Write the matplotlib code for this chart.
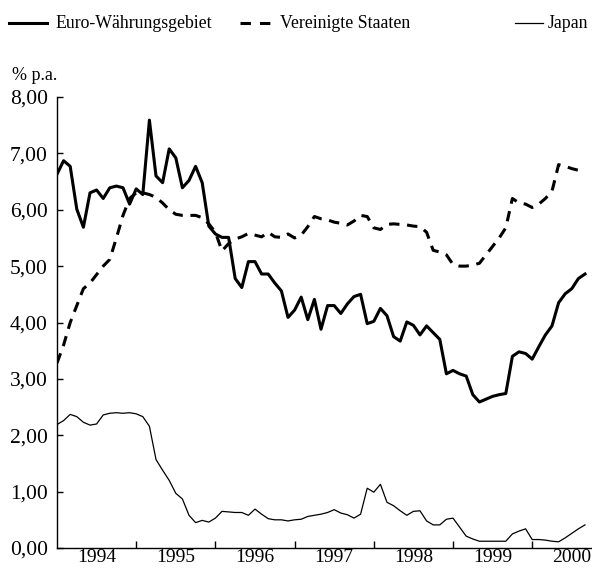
import numpy as np
import matplotlib
matplotlib.use("Agg")
import matplotlib.pyplot as plt
from matplotlib.lines import Line2D
from matplotlib.ticker import FuncFormatter, MultipleLocator

plt.rcParams['font.family'] = ['Liberation Serif', 'DejaVu Serif']
plt.rcParams['lines.scale_dashes'] = False

# monthly, Jan 1994 .. Sep 2000
euro = [6.63, 6.87, 6.77, 6.01, 5.69, 6.30, 6.35, 6.20, 6.39, 6.42,
        6.39, 6.10, 6.37, 6.27, 7.59, 6.60, 6.48, 7.08, 6.92, 6.39,
        6.52, 6.77, 6.48, 5.71, 5.57, 5.51, 5.51, 4.78, 4.62, 5.08,
        5.08, 4.86, 4.86, 4.70, 4.56, 4.09, 4.22, 4.45, 4.05, 4.41,
        3.88, 4.30, 4.30, 4.16, 4.33, 4.46, 4.50, 3.98, 4.02, 4.25,
        4.12, 3.75, 3.67, 4.01, 3.95, 3.78, 3.94, 3.82, 3.70, 3.09,
        3.15, 3.09, 3.05, 2.72, 2.59, 2.64, 2.69, 2.72, 2.74, 3.40,
        3.48, 3.45, 3.35, 3.57, 3.78, 3.94, 4.35, 4.51, 4.60, 4.78,
        4.86]
usa = [3.28, 3.60, 4.00, 4.30, 4.60, 4.70, 4.85, 5.00, 5.12, 5.50,
       5.90, 6.20, 6.30, 6.30, 6.27, 6.22, 6.12, 6.00, 5.92, 5.90,
       5.90, 5.90, 5.86, 5.75, 5.60, 5.27, 5.40, 5.48, 5.52, 5.58,
       5.55, 5.52, 5.60, 5.52, 5.51, 5.57, 5.50, 5.55, 5.70, 5.88,
       5.84, 5.82, 5.78, 5.76, 5.73, 5.80, 5.90, 5.88, 5.68, 5.65,
       5.74, 5.75, 5.74, 5.73, 5.71, 5.70, 5.60, 5.28, 5.25, 5.20,
       5.03, 5.00, 5.00, 5.02, 5.05, 5.20, 5.35, 5.50, 5.68, 6.20,
       6.12, 6.10, 6.04, 6.10, 6.20, 6.33, 6.80, 6.77, 6.73, 6.70,
       6.68]
japan = [2.19, 2.26, 2.37, 2.33, 2.23, 2.18, 2.20, 2.36, 2.39, 2.40,
         2.39, 2.40, 2.38, 2.33, 2.16, 1.57, 1.38, 1.20, 0.97, 0.87,
         0.58, 0.45, 0.49, 0.46, 0.53, 0.65, 0.64, 0.63, 0.63, 0.58,
         0.69, 0.60, 0.52, 0.50, 0.50, 0.48, 0.50, 0.51, 0.56, 0.58,
         0.60, 0.63, 0.68, 0.62, 0.59, 0.53, 0.60, 1.06, 0.99, 1.13,
         0.81, 0.75, 0.66, 0.58, 0.65, 0.66, 0.48, 0.41, 0.41, 0.51,
         0.53, 0.37, 0.21, 0.16, 0.12, 0.12, 0.12, 0.12, 0.12, 0.25,
         0.30, 0.34, 0.15, 0.15, 0.14, 0.12, 0.11, 0.18, 0.26, 0.34,
         0.41]
years = ['1994', '1995', '1996', '1997', '1998', '1999', '2000']
labels = ['Euro-Währungsgebiet', 'Vereinigte Staaten', 'Japan']

W, H = 592, 571
fig = plt.figure(figsize=(W / 100, H / 100), dpi=100)
ax = fig.add_axes([57 / W, 23 / H, (W - 57) / W, 451 / H])

x = np.arange(len(euro))
ax.plot(x, japan, color='black', lw=0.9)
ax.plot(x, usa, color='black', lw=2.2, dashes=(7.5, 5.5))
ax.plot(x, euro, color='black', lw=2.2)

ax.set_xlim(0, (W - 57) / 6.6)
ax.set_ylim(0, 8)
for s in ['top', 'right']:
    ax.spines[s].set_visible(False)
for s in ['left', 'bottom']:
    ax.spines[s].set_linewidth(1.0)

ax.yaxis.set_major_locator(MultipleLocator(1))
ax.yaxis.set_major_formatter(FuncFormatter(lambda v, p: f'{v:.2f}'.replace('.', ',')))
ax.tick_params(axis='y', direction='in', length=4, width=1, pad=6.5, labelsize=15.5)

ax.set_xticks([12 * i for i in range(1, len(years))])
ax.set_xticklabels([])
ax.set_xticks([12 * i + 6 for i in range(len(years))], minor=True)
ax.set_xticklabels(years, minor=True)
ax.tick_params(axis='x', which='major', direction='in', length=5, width=1)
ax.tick_params(axis='x', which='minor', length=0, pad=1, labelsize=14)

fig.text(12 / W, 1 - 75 / H, '% p.a.', fontsize=13, va='center', ha='left')

# legend drawn by hand in figure pixels
ly = 1 - 23 / H
styles = [dict(lw=2.2), dict(lw=2.2, dashes=(7.5, 6.5)), dict(lw=0.9)]
spans = [(9, 47, 55), (240, 270, 280), (515, 543, 548)]
for lab, st, (x0, x1, xt) in zip(labels, styles, spans):
    fig.add_artist(Line2D([x0 / W, x1 / W], [ly, ly], color='black',
                          transform=fig.transFigure, **st))
    fig.text(xt / W, ly, lab, fontsize=12.8, va='center', ha='left')

fig.savefig('out.png', dpi=100)
